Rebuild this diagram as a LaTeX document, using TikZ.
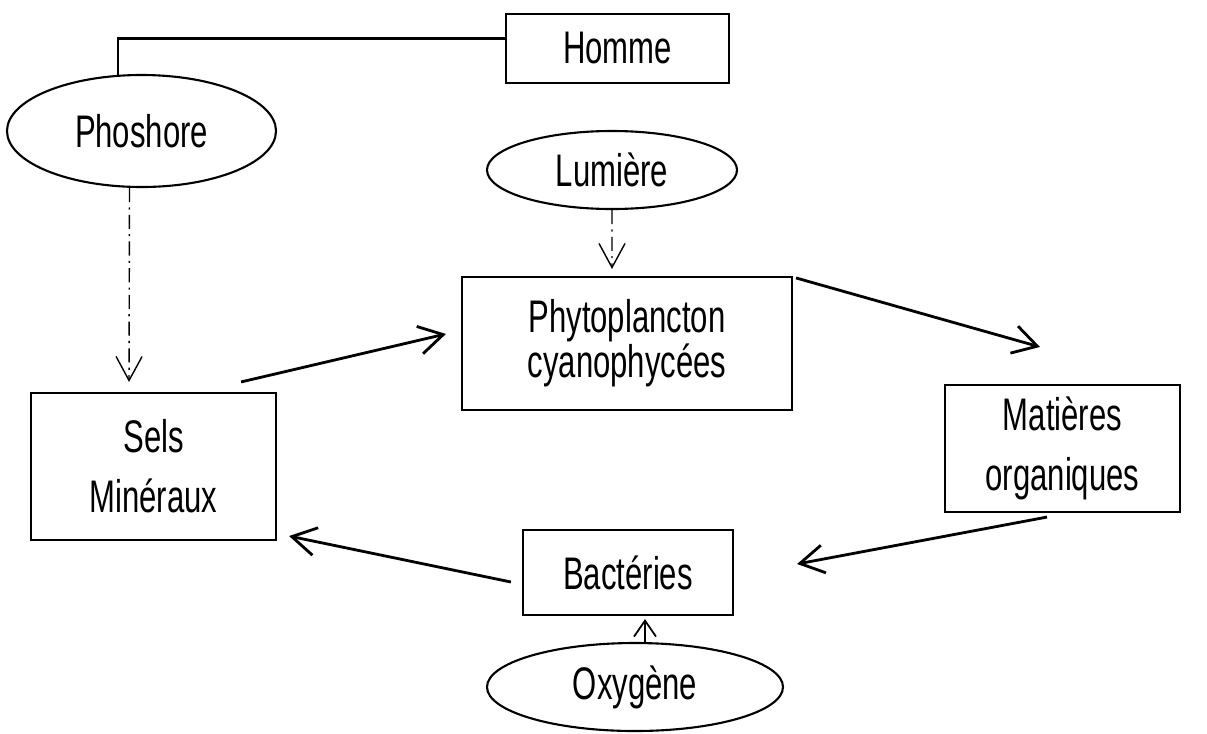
\documentclass[tikz,border=0pt]{standalone}
\usepackage{fontspec}
\setmainfont[FakeStretch=0.68]{Liberation Sans}
\usepackage{tikz}
\usetikzlibrary{
  arrows.meta,
  shapes.geometric
}
\tikzset{
  cbox/.style={
    draw,
    line width=0.6pt,
    align=center,
    font=\fontsize{13}{16}\selectfont,
    inner sep=0pt
  },
  coval/.style={cbox,ellipse},
  link/.style={line width=0.6pt},
  arrow/.style={-{Straight Barb[length=2.4mm,width=2.8mm]},line width=0.8pt},
  thinarrow/.style={-{Straight Barb[length=1.6mm,width=2.2mm]},line width=0.5pt},
  dasharrow/.style={-{Straight Barb[length=2.4mm,width=2.6mm]},line width=0.4pt,
    dash pattern=on 4pt off 1.5pt on 0.6pt off 1.5pt}
}

\begin{document}
\begin{tikzpicture}
  \useasboundingbox (0,0) rectangle (12.07,-7.33);

  \node[cbox, minimum width=2.23cm, minimum height=0.69cm] (homme) at (6.175,-0.485) {Homme};
  \node[coval, minimum width=2.69cm, minimum height=1.12cm] (phos) at (1.415,-1.31) {Phoshore};
  \node[coval, minimum width=2.50cm, minimum height=0.78cm] (lum) at (6.12,-1.70) {Lumière};
  \node[cbox, minimum width=3.30cm, minimum height=1.33cm] (phyto) at (6.27,-3.435) {Phytoplancton\\[-0.11cm]cyanophycées};
  \node[cbox, minimum width=2.45cm, minimum height=1.47cm] (sels) at (1.535,-4.665) {Sels\\[0.04cm]Minéraux};
  \node[cbox, minimum width=2.35cm, minimum height=1.27cm] (mat) at (10.625,-4.485) {Matières\\[0.04cm]organiques};
  \node[cbox, minimum width=2.10cm, minimum height=0.85cm] (bact) at (6.28,-5.725) {Bactéries};
  \node[coval, minimum width=2.96cm, minimum height=0.88cm] (oxy) at (6.35,-6.87) {Oxygène};

  \coordinate (drop) at (1.18,-0.76);

  \draw[link] ([yshift=0.1cm]homme.west) -| (drop);
  \draw[dasharrow, shorten >=0.1cm] ([xshift=-0.12cm]phos.south) -- ([xshift=-0.245cm]sels.north);
  \draw[dasharrow, shorten >=0.07cm] (lum.south) -- ([xshift=-0.15cm]phyto.north);
  \draw[arrow] ([shift={(-0.36,0.10)}]sels.north east) -- ([shift={(-0.15,-0.58)}]phyto.north west);
  \draw[arrow] ([shift={(0.03,-0.02)}]phyto.north east) -- ([shift={(-0.225,0.37)}]mat.north);
  \draw[arrow] ([shift={(-0.155,-0.04)}]mat.south) -- ([shift={(0.63,0.085)}]bact.east);
  \draw[arrow] ([shift={(-0.11,-0.095)}]bact.west) -- ([shift={(0.12,0.05)}]sels.south east);
  \draw[thinarrow, shorten >=0.03cm] ([xshift=0.10cm]oxy.north) -- ([xshift=0.17cm]bact.south);
\end{tikzpicture}
\end{document}
